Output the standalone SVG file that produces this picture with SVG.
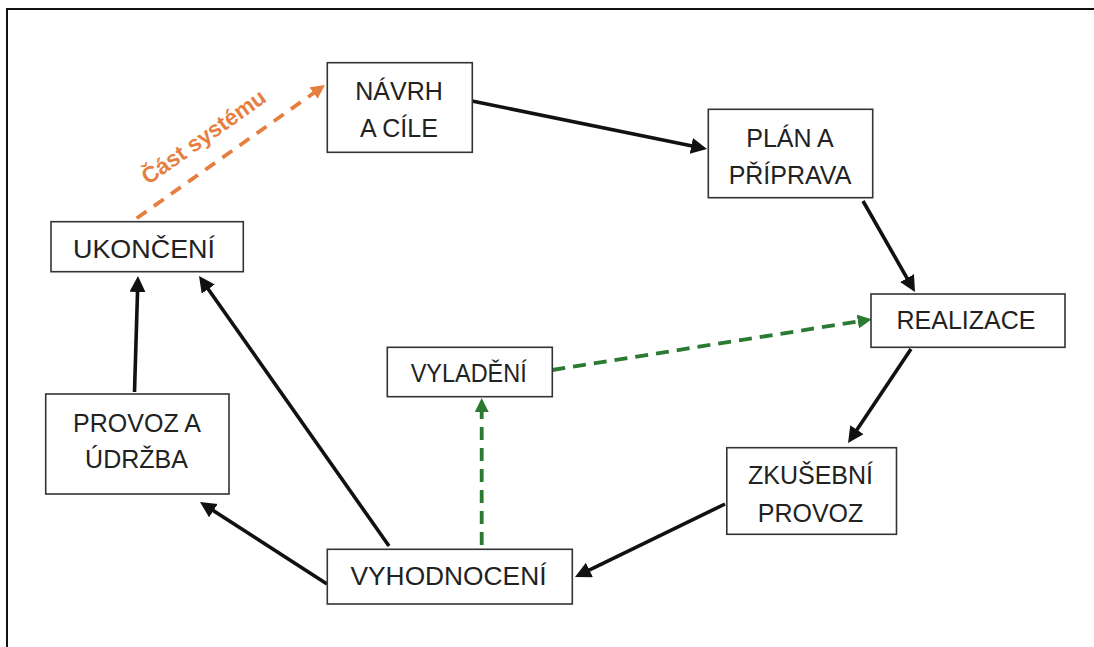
<svg xmlns="http://www.w3.org/2000/svg" width="1094" height="647" viewBox="0 0 1094 647">
  <style>
    .box { fill: #fff; stroke: #333; stroke-width: 1.6; }
    .lbl { font-family: "Liberation Sans", Arial, Helvetica, sans-serif; font-size: 25px; fill: #222; text-anchor: middle; }
    .flow { fill: none; stroke: #111; stroke-width: 3.6; }
    .tune { fill: none; stroke: #2b7a33; stroke-width: 3.8; stroke-dasharray: 13 8; }
    .part { fill: none; stroke: #e67e3f; stroke-width: 3.8; stroke-dasharray: 12 9; }
    .note { font-family: "Liberation Sans", Arial, Helvetica, sans-serif; font-size: 22.5px; font-weight: bold; fill: #e67e3f; text-anchor: middle; }
  </style>
  <defs>
    <marker id="headBlack" markerUnits="userSpaceOnUse" markerWidth="20" markerHeight="20" refX="6" refY="8" orient="auto">
      <path d="M0,0 L16,8 L0,16 z" fill="#111"/>
    </marker>
    <marker id="headGreen" markerUnits="userSpaceOnUse" markerWidth="20" markerHeight="20" refX="4" refY="7" orient="auto">
      <path d="M0,0 L14,7 L0,14 z" fill="#2b7a33"/>
    </marker>
    <marker id="headOrange" markerUnits="userSpaceOnUse" markerWidth="20" markerHeight="20" refX="4" refY="7" orient="auto">
      <path d="M0,0 L14,7 L0,14 z" fill="#e67e3f"/>
    </marker>
  </defs>

  <rect x="0" y="0" width="1094" height="647" fill="#fff"/>
  <!-- outer frame: only the top and left edges fall inside the page -->
  <path d="M7,660 V9 H1100" fill="none" stroke="#111" stroke-width="2"/>

  <g id="connectors">
    <line class="flow" x1="472" y1="101" x2="697.2" y2="147" marker-end="url(#headBlack)"/>
    <line class="flow" x1="863" y1="201" x2="910" y2="283.3" marker-end="url(#headBlack)"/>
    <line class="flow" x1="911" y1="349" x2="853.6" y2="434.7" marker-end="url(#headBlack)"/>
    <line class="flow" x1="725" y1="504" x2="584" y2="572.6" marker-end="url(#headBlack)"/>
    <line class="flow" x1="327" y1="584" x2="208.4" y2="507.4" marker-end="url(#headBlack)"/>
    <line class="flow" x1="389" y1="546" x2="204.8" y2="284.2" marker-end="url(#headBlack)"/>
    <line class="flow" x1="134.5" y1="392" x2="137.7" y2="286" marker-end="url(#headBlack)"/>
    <line class="tune" x1="481.7" y1="545" x2="481.7" y2="408" marker-end="url(#headGreen)"/>
    <line class="tune" x1="552.3" y1="370" x2="861.8" y2="320.9" marker-end="url(#headGreen)"/>
    <line class="part" x1="136.7" y1="218.3" x2="316.8" y2="90.8" marker-end="url(#headOrange)"/>
    <text class="note" transform="translate(208,143) rotate(-35.3)">Část systému</text>
  </g>

  <g id="navrh">
    <rect class="box" x="327.3" y="62.7" width="145" height="89.6"/>
    <text class="lbl" x="399" y="100">NÁVRH</text>
    <text class="lbl" x="399" y="137.3">A CÍLE</text>
  </g>
  <g id="plan">
    <rect class="box" x="708.3" y="109.3" width="164.4" height="88.4"/>
    <text class="lbl" x="790" y="146.7">PLÁN A</text>
    <text class="lbl" x="790" y="184">PŘÍPRAVA</text>
  </g>
  <g id="realizace">
    <rect class="box" x="871" y="294" width="194" height="53.3"/>
    <text class="lbl" x="966" y="329.3">REALIZACE</text>
  </g>
  <g id="zkusebni">
    <rect class="box" x="726.8" y="447.7" width="169.7" height="86.6"/>
    <text class="lbl" x="810.5" y="484">ZKUŠEBNÍ</text>
    <text class="lbl" x="810.5" y="521.7">PROVOZ</text>
  </g>
  <g id="vyhodnoceni">
    <rect class="box" x="327.3" y="549.3" width="245" height="54.7"/>
    <text class="lbl" x="448.5" y="585" textLength="196" lengthAdjust="spacingAndGlyphs">VYHODNOCENÍ</text>
  </g>
  <g id="vyladeni">
    <rect class="box" x="387.3" y="347.3" width="165" height="49.4"/>
    <text class="lbl" x="468.7" y="381.7" textLength="116" lengthAdjust="spacingAndGlyphs">VYLADĚNÍ</text>
  </g>
  <g id="provoz">
    <rect class="box" x="45.7" y="394" width="183.3" height="100"/>
    <text class="lbl" x="137" y="431.7">PROVOZ A</text>
    <text class="lbl" x="136.5" y="468.3">ÚDRŽBA</text>
  </g>
  <g id="ukonceni">
    <rect class="box" x="51" y="221.7" width="192.3" height="50"/>
    <text class="lbl" x="144" y="258" textLength="142" lengthAdjust="spacingAndGlyphs">UKONČENÍ</text>
  </g>
</svg>
